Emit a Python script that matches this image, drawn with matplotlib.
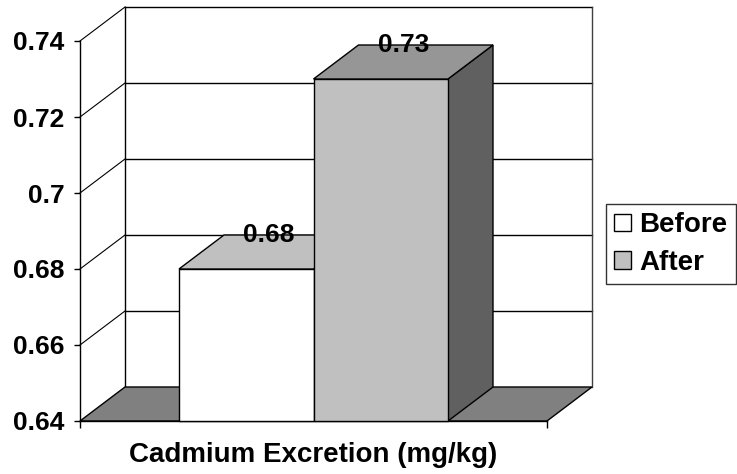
import matplotlib
matplotlib.use("Agg")
import matplotlib.pyplot as plt
from matplotlib.patches import Polygon, Patch

# ---- data ----
categories = ["Cadmium Excretion (mg/kg)"]
series = ["Before", "After"]
values = [0.68, 0.73]
value_labels = ["0.68", "0.73"]
yticks = [0.64, 0.66, 0.68, 0.70, 0.72, 0.74]
ytick_labels = ["0.64", "0.66", "0.68", "0.7", "0.72", "0.74"]

# ---- style ----
front_colors = ["#ffffff", "#c0c0c0"]
top_colors = ["#c0c0c0", "#969696"]
side_colors = ["#a0a0a0", "#606060"]
floor_color = "#808080"
FONT = "Liberation Sans"
FS = 19

W, H = 737, 474
fig = plt.figure(figsize=(W / 100, H / 100), dpi=100)
ax_left, ax_right, ax_bottom, ax_top = 80, 547, 421, 41
ax = fig.add_axes([ax_left / W, (H - ax_bottom) / H,
                   (ax_right - ax_left) / W, (ax_bottom - ax_top) / H])
ymin, ymax = yticks[0], yticks[-1]
ax.set_xlim(0, 1)
ax.set_ylim(ymin, ymax)

# depth offsets in data units
px_x = 1.0 / (ax_right - ax_left)
px_y = (ymax - ymin) / (ax_bottom - ax_top)
dx = 45 * px_x
dy = 34 * px_y

lw = 1.0
k = dict(clip_on=False)

# back wall gridlines + outline
for yv in yticks[1:]:
    ax.plot([dx, 1 + dx], [yv + dy, yv + dy], color="black", lw=lw, zorder=1, **k)
ax.plot([1 + dx, 1 + dx], [ymin + dy, ymax + dy], color="#404040", lw=lw, zorder=1, **k)
ax.plot([dx, dx], [ymin + dy, ymax + dy], color="black", lw=lw, zorder=1, **k)
# left wall diagonals
for yv in yticks[1:]:
    ax.plot([0, dx], [yv, yv + dy], color="black", lw=0.8, zorder=1, **k)

# floor
floor = Polygon([[0, ymin], [1, ymin], [1 + dx, ymin + dy], [dx, ymin + dy]],
                closed=True, facecolor=floor_color, edgecolor="black", lw=lw, zorder=2, **k)
ax.add_patch(floor)

# bars
n = len(series)
bw = 0.288
center = 0.5
starts = [center - bw * n / 2 + i * bw for i in range(n)]
for i, (s, v) in enumerate(zip(series, values)):
    x0 = starts[i]
    x1 = x0 + bw
    z = 3 + i
    front = Polygon([[x0, ymin], [x1, ymin], [x1, v], [x0, v]], closed=True,
                    facecolor=front_colors[i], edgecolor="black", lw=lw, zorder=z, **k)
    top = Polygon([[x0, v], [x1, v], [x1 + dx, v + dy], [x0 + dx, v + dy]], closed=True,
                  facecolor=top_colors[i], edgecolor="black", lw=lw, zorder=z, **k)
    side = Polygon([[x1, ymin], [x1 + dx, ymin + dy], [x1 + dx, v + dy], [x1, v]], closed=True,
                   facecolor=side_colors[i], edgecolor="black", lw=lw, zorder=z, **k)
    ax.add_patch(side)
    ax.add_patch(front)
    ax.add_patch(top)
    ax.text(x0 + bw / 2 + dx / 2, v + dy, value_labels[i], ha="center", va="center",
            fontsize=FS, fontweight="bold", family=FONT, zorder=10)

# axes styling
for sp in ["top", "right"]:
    ax.spines[sp].set_visible(False)
ax.spines["bottom"].set_visible(False)
ax.spines["left"].set_linewidth(lw)
ax.set_facecolor("none")
ax.set_yticks(yticks)
ax.set_yticklabels(ytick_labels, fontsize=FS, fontweight="bold", family=FONT)
ax.tick_params(axis="y", length=4, width=1, pad=7)
ax.set_xticks([center])
ax.set_xticklabels(categories, fontsize=FS + 1, fontweight="bold", family=FONT)
ax.tick_params(axis="x", which="major", length=0, pad=15)
ax.set_xticks([0, 1], minor=True)
ax.tick_params(axis="x", which="minor", length=5, width=1)
# front floor edge
ax.plot([0, 1], [ymin, ymin], color="black", lw=lw, zorder=2.5, **k)

handles = [Patch(facecolor=front_colors[i], edgecolor="black", lw=1, label=s)
           for i, s in enumerate(series)]
leg = fig.legend(handles=handles, loc="center left", bbox_to_anchor=(606 / W, (H - 244) / H),
                 prop=dict(family=FONT, weight="bold", size=FS + 1), frameon=True, fancybox=False,
                 handlelength=0.6, handleheight=0.6, handletextpad=0.3, labelspacing=0.4,
                 borderpad=0.3, borderaxespad=0)
leg.get_frame().set_edgecolor("black")
leg.get_frame().set_linewidth(1)

fig.savefig("out.png", dpi=100)
